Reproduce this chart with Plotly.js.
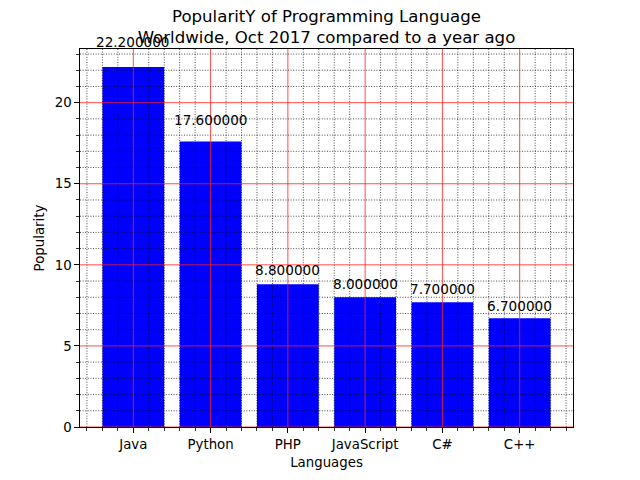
<!DOCTYPE html>
<html>
<head>
<meta charset="utf-8">
<script src="https://cdn.plot.ly/plotly-3.0.1.min.js"></script>
<style>html,body{margin:0;padding:0;background:#fff;}#chart{width:640px;height:480px;}</style>
</head>
<body>
<div id="chart"></div>
<script>
const languages = ['Java', 'Python', 'PHP', 'JavaScript', 'C#', 'C++'];
const popularity = [22.2, 17.6, 8.8, 8.0, 7.7, 6.7];
const yMajorTicks = [0, 5, 10, 15, 20];

const xPos = languages.map((_, i) => i);
const xRange = [-0.69, 5.69];
const yRange = [0, 23.31];

const minorLine = {color:'black', width:0.7, dash:'1px,1.6px'};
const majorLine = {color:'#ff2020', width:0.8};

const shapes = [];
// minor grid (black dotted), drawn above bars like matplotlib's default
for (let k = -3; k <= 28; k++) {
  if (k % 5 === 0) continue;
  const xv = k * 0.2;
  shapes.push({type:'line', layer:'above', xref:'x', yref:'paper', x0:xv, x1:xv, y0:0, y1:1, line:minorLine});
}
for (let v = 1; v <= 23; v++) {
  if (v % 5 === 0) continue;
  shapes.push({type:'line', layer:'above', xref:'paper', yref:'y', x0:0, x1:1, y0:v, y1:v, line:minorLine});
}
// major grid (red)
xPos.forEach(xv => shapes.push({type:'line', layer:'above', xref:'x', yref:'paper', x0:xv, x1:xv, y0:0, y1:1, line:majorLine}));
yMajorTicks.forEach(v => shapes.push({type:'line', layer:'above', xref:'paper', yref:'y', x0:0, x1:1, y0:v, y1:v, line:majorLine}));

const annotations = popularity.map((v, i) => ({
  x: i, y: v * 1.05, xref:'x', yref:'y', text: v.toFixed(6), showarrow:false,
  xanchor:'center', yanchor:'bottom', yshift:-3,
  font:{family:'DejaVu Sans', size:13.6, color:'black'}
}));

const trace = {
  type:'bar', x:xPos, y:popularity, width:0.8,
  marker:{color:'#0000ff', line:{width:0}},
  hoverinfo:'none'
};

const layout = {
  width:640, height:480,
  margin:{l:80, r:67, t:49, b:53},
  paper_bgcolor:'white', plot_bgcolor:'white',
  font:{family:'DejaVu Sans', size:13.33, color:'black'},
  showlegend:false,
  title:{
    text:'PopularitY of Programming Language<br>Worldwide, Oct 2017 compared to a year ago',
    font:{family:'DejaVu Sans', size:16.6, color:'black'},
    xref:'paper', x:0.5, xanchor:'center',
    yref:'container', y:0.955, yanchor:'top'
  },
  xaxis:{
    range:xRange, tickmode:'array', tickvals:xPos, ticktext:languages,
    showgrid:false, zeroline:false,
    showline:true, mirror:true, linecolor:'black', linewidth:1,
    ticks:'outside', ticklen:4.7, tickwidth:1, tickcolor:'black',
    minor:{tick0:0, dtick:0.2, ticks:'outside', ticklen:2.7, tickwidth:0.8, tickcolor:'black', showgrid:false},
    title:{text:'Languages', font:{family:'DejaVu Sans', size:13.33, color:'black'}, standoff:6},
    tickfont:{family:'DejaVu Sans', size:13.33, color:'black'}
  },
  yaxis:{
    range:yRange, tickmode:'array', tickvals:yMajorTicks,
    showgrid:false, zeroline:false,
    showline:true, mirror:true, linecolor:'black', linewidth:1,
    ticks:'outside', ticklen:4.7, tickwidth:1, tickcolor:'black',
    minor:{tick0:0, dtick:1, ticks:'outside', ticklen:2.7, tickwidth:0.8, tickcolor:'black', showgrid:false},
    title:{text:'Popularity', font:{family:'DejaVu Sans', size:13.33, color:'black'}, standoff:6},
    tickfont:{family:'DejaVu Sans', size:13.33, color:'black'}
  },
  shapes:shapes,
  annotations:annotations
};

Plotly.newPlot('chart', [trace], layout, {displayModeBar:false, staticPlot:true});
</script>
</body>
</html>
